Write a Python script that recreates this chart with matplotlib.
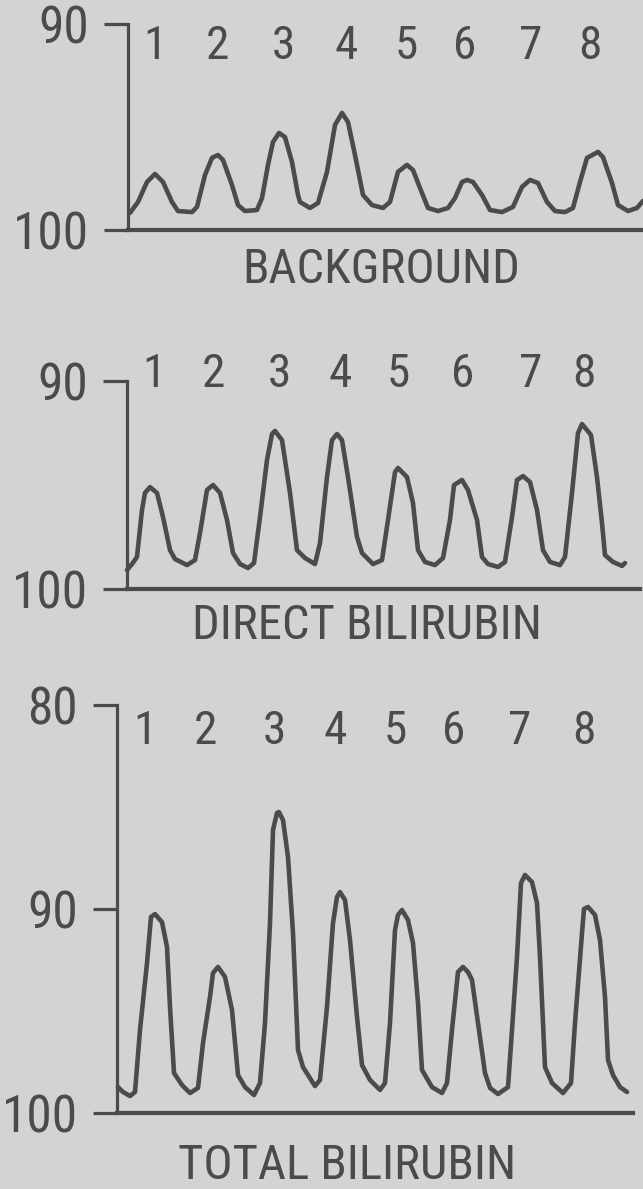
import matplotlib
matplotlib.use('Agg')
import matplotlib.pyplot as plt
from matplotlib import font_manager as fm

# ---------------- data ----------------
lane_labels = ['1', '2', '3', '4', '5', '6', '7', '8']

# BACKGROUND trace: scan position (chart units) and reading
bg_pos = [2, 10, 19, 27, 35, 44, 50, 64, 69, 77, 84, 90, 95, 104, 110, 117, 129, 134, 140, 145,
          151, 157, 164, 170, 172, 182, 190, 199, 207, 214, 220, 227, 235, 244, 255, 262, 270, 279,
          285, 292, 300, 310, 320, 327, 334, 339, 345, 354, 362, 374, 385, 394, 402, 410, 419, 427,
          437, 445, 452, 459, 470, 475, 484, 490, 500, 509, 515]
bg_val = [99.17, 98.64, 97.67, 97.28, 97.67, 98.64, 99.08, 99.13, 98.88, 97.33, 96.50, 96.36, 96.60,
          97.82, 98.79, 99.08, 99.03, 98.45, 96.84, 95.73, 95.29, 95.49, 96.70, 98.30, 98.64, 98.93,
          98.69, 97.18, 94.90, 94.32, 94.76, 96.36, 98.30, 98.79, 98.93, 98.64, 97.18, 96.84, 97.09,
          97.96, 98.93, 99.08, 98.93, 98.45, 97.67, 97.57, 97.67, 98.30, 99.03, 99.13, 98.88, 97.91,
          97.57, 97.72, 98.64, 99.08, 99.13, 98.93, 97.67, 96.50, 96.21, 96.46, 97.72, 98.79, 99.08,
          98.93, 98.59]

# DIRECT BILIRUBIN trace
direct_pos = [0, 5, 10, 15, 18, 23, 30, 36, 43, 48, 60, 68, 73, 80, 86, 93, 100, 106, 113, 121,
              127, 133, 140, 145, 148, 155, 163, 170, 178, 188, 193, 200, 205, 210, 215, 221, 230,
              235, 246, 255, 261, 268, 271, 280, 286, 291, 298, 308, 316, 323, 327, 335, 341, 350,
              355, 361, 371, 378, 385, 390, 396, 403, 410, 416, 423, 433, 438, 445, 451, 455, 460,
              464, 470, 475, 478, 486, 495, 498]
direct_val = [99.09, 98.80, 98.46, 96.20, 95.38, 95.10, 95.38, 96.54, 98.13, 98.56, 98.85, 98.61,
              97.31, 95.24, 95.00, 95.38, 96.68, 98.27, 98.80, 98.99, 98.75, 96.54, 93.80, 92.55,
              92.40, 92.84, 95.38, 98.13, 98.51, 98.80, 97.79, 94.62, 92.84, 92.55, 92.84, 94.62,
              97.50, 98.27, 98.80, 98.61, 96.68, 94.38, 94.18, 94.62, 95.87, 98.13, 98.70, 98.85,
              98.51, 96.68, 95.00, 94.76, 95.24, 96.68, 98.46, 98.80, 98.94, 98.70, 96.54, 94.76,
              94.57, 94.86, 96.20, 98.13, 98.70, 98.85, 98.46, 95.38, 92.50, 92.07, 92.36, 92.60,
              94.62, 96.83, 98.37, 98.70, 98.89, 98.75]

# TOTAL BILIRUBIN trace
total_pos = [1, 6, 13, 18, 23, 30, 34, 38, 45, 50, 53, 57, 65, 73, 81, 86, 93, 96, 101, 108, 115,
             121, 128, 137, 143, 148, 153, 156, 160, 162, 166, 171, 176, 181, 186, 198, 203, 210,
             216, 220, 223, 228, 233, 240, 245, 253, 263, 268, 273, 278, 281, 285, 291, 296, 301,
             305, 315, 325, 330, 335, 341, 346, 351, 355, 361, 368, 373, 381, 391, 395, 400, 404,
             408, 415, 420, 423, 428, 435, 446, 454, 458, 465, 467, 471, 478, 483, 488, 491, 496,
             503, 510]
total_val = [98.73, 98.97, 99.17, 98.97, 95.93, 92.65, 90.39, 90.25, 90.64, 91.86, 94.80, 98.04,
             98.63, 99.02, 98.77, 96.57, 94.31, 93.14, 92.84, 93.33, 94.95, 98.14, 98.73, 99.12,
             98.53, 95.59, 90.69, 86.13, 85.29, 85.25, 85.64, 87.45, 91.18, 96.91, 97.75, 98.68,
             98.38, 94.80, 90.69, 89.41, 89.17, 89.56, 91.52, 95.29, 97.65, 98.38, 98.87, 98.53,
             95.59, 91.03, 90.29, 90.05, 90.54, 91.67, 94.61, 97.89, 98.73, 99.02, 98.53, 95.93,
             93.09, 92.84, 93.09, 93.48, 95.59, 98.04, 98.77, 99.07, 98.73, 95.93, 92.35, 88.73,
             88.33, 88.68, 89.71, 92.35, 97.75, 98.53, 99.02, 98.53, 95.59, 91.18, 90.00, 89.90,
             90.29, 91.52, 94.31, 97.40, 98.14, 98.73, 98.97]

titles = ['BACKGROUND', 'DIRECT BILIRUBIN', 'TOTAL BILIRUBIN']
yticks_small = [90, 100]
yticks_total = [80, 90, 100]

# ---------------- style / layout ----------------
W, H, DPI = 643, 1189, 100
BG = '#d3d3d3'
INK = '#4b4b4b'

names = {f.name for f in fm.fontManager.ttflist}
# (family, title size, lane-number size, tick-label size)
candidates = [
    ('Liberation Sans Narrow', 34, 33, 35),
    ('DejaVu Sans Condensed', 31, 31, 31),
    ('Roboto Condensed', 35, 34, 37),
    ('DejaVu Sans', 30, 29, 28),
]
FONT, TS, LS, KS = next(c for c in candidates if c[0] in names or c[0] == 'DejaVu Sans')
plt.rcParams['font.family'] = [FONT, 'DejaVu Sans']

fig = plt.figure(figsize=(W / DPI, H / DPI), dpi=DPI, facecolor=BG)


def fx(px):
    return px / W


def fy(py):
    return 1 - py / H


panels = [
    dict(pos=bg_pos, val=bg_val, box=(128, 24, 643, 230), ylim=(100, 90), ticks=yticks_small,
         lanes_x=[155, 217, 283, 346, 406, 465, 531, 590], lanes_y=46,
         title=titles[0], title_xy=(381, 270)),
    dict(pos=direct_pos, val=direct_val, box=(127, 381, 640, 589), ylim=(100, 90), ticks=yticks_small,
         lanes_x=[154, 213, 279, 340, 398, 463, 531, 584], lanes_y=374,
         title=titles[1], title_xy=(367, 626)),
    dict(pos=total_pos, val=total_val, box=(117, 705, 633, 1113), ylim=(100, 80), ticks=yticks_total,
         lanes_x=[145, 205, 274, 335, 395, 454, 520, 584], lanes_y=731,
         title=titles[2], title_xy=(347, 1166)),
]

for p in panels:
    l, t, r, b = p['box']
    ax = fig.add_axes([fx(l), fy(b), (r - l) / W, (b - t) / H])
    ax.set_facecolor('none')
    ax.plot(p['pos'], p['val'], color=INK, lw=3.3, solid_joinstyle='round',
            solid_capstyle='round', clip_on=False)
    ax.set_xlim(0, r - l)
    ax.set_ylim(*p['ylim'])
    ax.set_yticks(p['ticks'])
    ax.set_yticklabels([str(v) for v in p['ticks']])
    ax.set_xticks([])
    for s in ('top', 'right'):
        ax.spines[s].set_visible(False)
    ax.spines['left'].set_linewidth(2.3)
    ax.spines['left'].set_color(INK)
    ax.spines['bottom'].set_linewidth(3.0)
    ax.spines['bottom'].set_color(INK)
    ax.tick_params(axis='y', direction='out', length=17, width=2.3, color=INK,
                   labelcolor=INK, labelsize=KS, pad=11)
    for lx, lab in zip(p['lanes_x'], lane_labels):
        fig.text(fx(lx), fy(p['lanes_y']), lab, ha='center', va='center',
                 fontsize=LS, color=INK)
    fig.text(fx(p['title_xy'][0]), fy(p['title_xy'][1]), p['title'], ha='center', va='center',
             fontsize=TS, color=INK)

fig.savefig('out.png', dpi=DPI, facecolor=BG)
